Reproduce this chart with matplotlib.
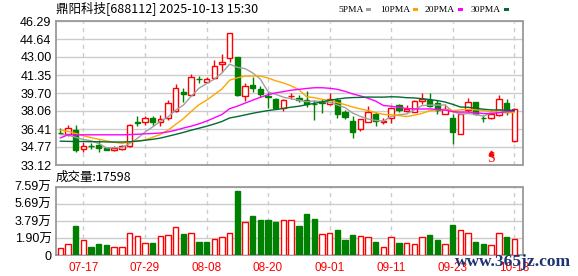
import matplotlib
matplotlib.use('Agg')
import matplotlib.pyplot as plt
import matplotlib.transforms as mtransforms
import numpy as np
import pandas as pd

# ---------------- data ----------------
dates = ['07-14', '07-15', '07-16', '07-17', '07-18',
         '07-21', '07-22', '07-23', '07-24', '07-25',
         '07-28', '07-29', '07-30', '07-31', '08-01',
         '08-04', '08-05', '08-06', '08-07', '08-08',
         '08-11', '08-12', '08-13', '08-14', '08-15',
         '08-18', '08-19', '08-20', '08-21', '08-22',
         '08-25', '08-26', '08-27', '08-28', '08-29',
         '09-01', '09-02', '09-03', '09-04', '09-05',
         '09-08', '09-09', '09-10', '09-11', '09-12',
         '09-15', '09-16', '09-17', '09-18', '09-19',
         '09-22', '09-23', '09-24', '09-25', '09-26',
         '09-29', '09-30', '10-09', '10-10', '10-13']

opens = [36.08, 36.00, 36.29, 34.55, 34.89, 34.98, 34.64, 34.52, 34.58, 34.83,
         37.05, 37.08, 37.39, 37.02, 37.39, 38.09, 39.83, 39.49, 41.02, 40.68,
         41.05, 42.33, 42.90, 42.97, 39.46, 40.44, 40.07, 39.43, 39.16, 38.36,
         39.40, 39.22, 39.03, 38.72, 38.88, 38.67, 39.09, 37.97, 37.14, 36.44,
         37.08, 37.75, 37.02, 37.39, 38.61, 38.03, 37.99, 38.97, 39.03, 38.79,
         37.81, 37.42, 35.99, 38.15, 38.85, 37.45, 37.39, 37.69, 38.79, 35.31]
highs = [36.53, 36.78, 36.78, 35.25, 35.16, 35.41, 34.77, 34.89, 34.95, 36.84,
         37.57, 37.57, 37.63, 37.69, 39.09, 40.50, 40.19, 41.41, 41.23, 41.17,
         42.75, 43.24, 45.20, 43.03, 40.59, 41.17, 40.38, 39.77, 39.28, 39.16,
         39.74, 39.52, 39.89, 39.06, 39.13, 39.68, 39.22, 38.12, 37.60, 37.36,
         38.48, 37.99, 37.39, 38.42, 38.67, 38.61, 39.06, 39.71, 39.74, 39.06,
         38.70, 37.81, 37.88, 39.28, 38.91, 37.69, 38.15, 39.52, 39.16, 38.30]
lows = [35.93, 35.80, 34.34, 34.34, 34.55, 34.28, 34.46, 34.40, 34.52, 34.80,
        36.69, 36.78, 36.72, 36.72, 37.24, 38.00, 38.85, 39.40, 40.62, 40.59,
        40.99, 41.66, 42.50, 39.43, 38.97, 39.77, 39.34, 38.30, 38.30, 38.06,
        39.20, 38.85, 38.45, 37.24, 37.90, 38.61, 37.39, 37.36, 35.62, 36.23,
        37.02, 36.72, 36.90, 36.96, 37.99, 37.93, 37.93, 38.67, 38.42, 37.81,
        37.81, 35.07, 35.92, 37.99, 37.69, 37.02, 37.33, 37.63, 37.69, 35.25]
closes = [36.05, 36.47, 34.52, 34.86, 34.83, 34.70, 34.52, 34.64, 34.83, 36.75,
          36.99, 37.39, 37.08, 37.36, 38.76, 40.13, 39.65, 41.14, 40.96, 40.94,
          42.14, 42.51, 45.16, 39.52, 40.35, 40.19, 39.65, 39.37, 38.36, 39.03,
          39.46, 39.03, 38.68, 38.66, 38.82, 39.13, 37.75, 37.48, 36.17, 37.30,
          37.94, 37.10, 37.14, 38.30, 38.15, 38.20, 38.97, 39.13, 38.55, 38.15,
          38.21, 36.11, 37.81, 38.85, 37.75, 37.39, 37.75, 39.13, 37.94, 38.24]
# volume in units of 10k shares (万)
volumes_wan = [0.81, 1.22, 3.25, 1.66, 0.92, 1.25, 1.14, 0.89, 0.89, 2.43,
               2.10, 1.36, 1.36, 2.10, 2.21, 3.10, 2.36, 2.43, 1.48, 1.48,
               1.84, 1.99, 2.43, 7.12, 3.65, 4.35, 3.91, 3.91, 3.69, 3.91,
               3.91, 3.25, 4.57, 4.02, 2.32, 2.43, 2.80, 1.70, 2.25, 2.10,
               1.99, 1.48, 0.89, 2.03, 1.36, 1.36, 1.22, 1.99, 2.25, 1.73,
               1.25, 3.36, 2.80, 2.43, 1.48, 1.25, 1.11, 2.43, 2.03, 1.7598]
pre_close = 35.33  # close of the day before the first candle

# moving-average values at the start of the window
ma5_head = [35.90, 35.85, 35.65, 35.45]
ma10_head = [36.30, 36.20, 36.00, 35.80, 35.62, 35.47, 35.33, 35.20, 35.10]
ma20_head = [35.60, 35.88, 35.88, 35.88, 35.88, 35.88, 35.88, 35.88, 35.88, 35.90,
             35.93, 35.97, 36.00, 36.05, 36.15, 36.30, 36.50, 36.67, 36.88]
ma30_head = [35.30, 35.28, 35.27, 35.27, 35.25, 35.25, 35.23, 35.22, 35.22, 35.25,
             35.30, 35.38, 35.47, 35.58, 35.75, 35.92, 36.10, 36.30, 36.48, 36.66,
             36.87, 37.10, 37.42, 37.55, 37.70, 37.85, 37.98, 38.10, 38.19]

ma_names = ['5PMA', '10PMA', '20PMA', '30PMA']
ma_windows = [5, 10, 20, 30]

price_ticks = [33.12, 34.77, 36.41, 38.06, 39.70, 41.35, 43.00, 44.64, 46.29]
price_tick_labels = ['33.12', '34.77', '36.41', '38.06', '39.70', '41.35', '43.00', '44.64', '46.29']
vol_ticks = [0, 19000, 37900, 56900, 75900]
vol_tick_labels = ['0', '1.90万', '3.79万', '5.69万', '7.59万']
date_tick_labels = ['07-17', '07-29', '08-08', '08-20', '09-01', '09-11', '09-23', '10-13']

title = '鼎阳科技[688112] 2025-10-13 15:30'
volume_caption = '成交量:17598'
signal_date = '09-30'
signal_text = 'S'
site_mark = 'www.365jz.com'

# ---------------- style ----------------
RED = '#ff0000'
GREEN = '#008000'
GRID = '#cccccc'
FRAME = '#9a9a9a'
ma_colors = ['#a0a0a0', '#ffa500', '#ff00ff', '#006b33']
CJK = ['Noto Sans CJK SC', 'DejaVu Sans']
NUMF = ['Liberation Sans', 'Noto Sans CJK SC', 'DejaVu Sans']

W, H = 578, 276
fig = plt.figure(figsize=(W / 100, H / 100), dpi=100)
fig.patch.set_facecolor('white')


def rect(l, t, r, b):
    return [l / W, 1 - b / H, (r - l) / W, (b - t) / H]


ax = fig.add_axes(rect(55.7, 21, 522.5, 165))
axv = fig.add_axes(rect(55.7, 186.7, 522.5, 255.3))

x = np.arange(len(dates))
o = np.array(opens)
h = np.array(highs)
l = np.array(lows)
c = np.array(closes)
vol = np.array(volumes_wan) * 10000
prev = np.concatenate([[pre_close], c[:-1]])
vol_up = c > prev
tick_pos = [dates.index(d) for d in date_tick_labels]

BW = 0.7
for i in x:
    if c[i] >= o[i]:
        ax.vlines(i, l[i], h[i], color=RED, lw=1, zorder=2)
        ax.bar(i, max(c[i] - o[i], 0.02), bottom=o[i], width=BW, facecolor='white',
               edgecolor=RED, lw=1, zorder=3)
    else:
        ax.vlines(i, l[i], h[i], color=GREEN, lw=1, zorder=2)
        ax.bar(i, max(o[i] - c[i], 0.02), bottom=c[i], width=BW, facecolor=GREEN,
               edgecolor=GREEN, lw=1, zorder=3)

cs = pd.Series(c)
for n, head, col in zip(ma_windows, [ma5_head, ma10_head, ma20_head, ma30_head], ma_colors):
    roll = cs.rolling(n).mean().to_numpy()
    vals = np.concatenate([np.array(head), roll[len(head):]])
    ax.plot(x, vals, color=col, lw=1, zorder=4)

for i in x:
    if vol_up[i]:
        axv.bar(i, vol[i], width=BW, facecolor='white', edgecolor=RED, lw=1, zorder=3)
    else:
        axv.bar(i, vol[i], width=BW, facecolor=GREEN, edgecolor=GREEN, lw=1, zorder=3)

xlim = (-0.6, len(dates) - 1 + 1.07)
for a in (ax, axv):
    a.set_xlim(*xlim)
    a.set_xticks(tick_pos)
    for t in tick_pos:
        a.axvline(t, color=GRID, lw=1, ls=(0, (3, 3)), zorder=0)
    a.grid(axis='y', color=GRID, lw=1, zorder=0)
    a.set_axisbelow(True)
    for s in a.spines.values():
        s.set_color(FRAME)
        s.set_linewidth(1.3)
    a.tick_params(length=0)

ax.set_ylim(price_ticks[0], price_ticks[-1])
ax.set_yticks(price_ticks)
ax.set_yticklabels(price_tick_labels, family=NUMF, fontsize=9)
ax.tick_params(axis='y', pad=3)
ax.set_xticklabels([])

axv.set_ylim(vol_ticks[0], vol_ticks[-1])
axv.set_yticks(vol_ticks)
axv.set_yticklabels(vol_tick_labels, family=NUMF, fontsize=9)
axv.tick_params(axis='y', pad=3)
axv.set_xticklabels(date_tick_labels, family=NUMF, fontsize=8.5, color=RED)
axv.tick_params(axis='x', pad=5)

# signal marker
trans = mtransforms.blended_transform_factory(ax.transData, ax.transAxes)
si = dates.index(signal_date)
ax.plot([si], [0.085], marker='^', ms=3.5, color=RED, transform=trans, zorder=5, clip_on=False)
ax.text(si, 0.0, signal_text, transform=trans, color=RED, fontsize=10,
        family=['Liberation Serif'], ha='center', va='bottom', zorder=5)

# title and captions
fig.text(56 / W, 1 - 8.5 / H, title, family=CJK, fontsize=9, va='center', ha='left')
fig.text(56 / W, 1 - 177.5 / H, volume_caption, family=CJK, fontsize=9, va='center', ha='left')

# legend (text + small colour bars), placed as in the reference
legend_text_x = [338, 380, 425, 471]
for name, col, lx in zip(ma_names, ma_colors, legend_text_x):
    t = fig.text(lx / W, 1 - 9.5 / H, name, family=['Liberation Serif'], fontsize=6.8,
                 va='center', ha='left')
fig.canvas.draw()
renderer = fig.canvas.get_renderer()
for t, col in zip(fig.texts[-4:], ma_colors):
    end = t.get_window_extent(renderer=renderer).x1
    fig.patches.append(plt.Rectangle(((end + 2.5) / W, 1 - 11 / H), 5.5 / W, 3 / H,
                                     transform=fig.transFigure, facecolor=col,
                                     edgecolor='none'))

fig.text(455 / W, 1 - 262 / H, site_mark, family=['Liberation Serif'], fontsize=12.5,
         weight='bold', color='#1e3370', va='center', ha='left')

fig.savefig('out.png', dpi=100)
